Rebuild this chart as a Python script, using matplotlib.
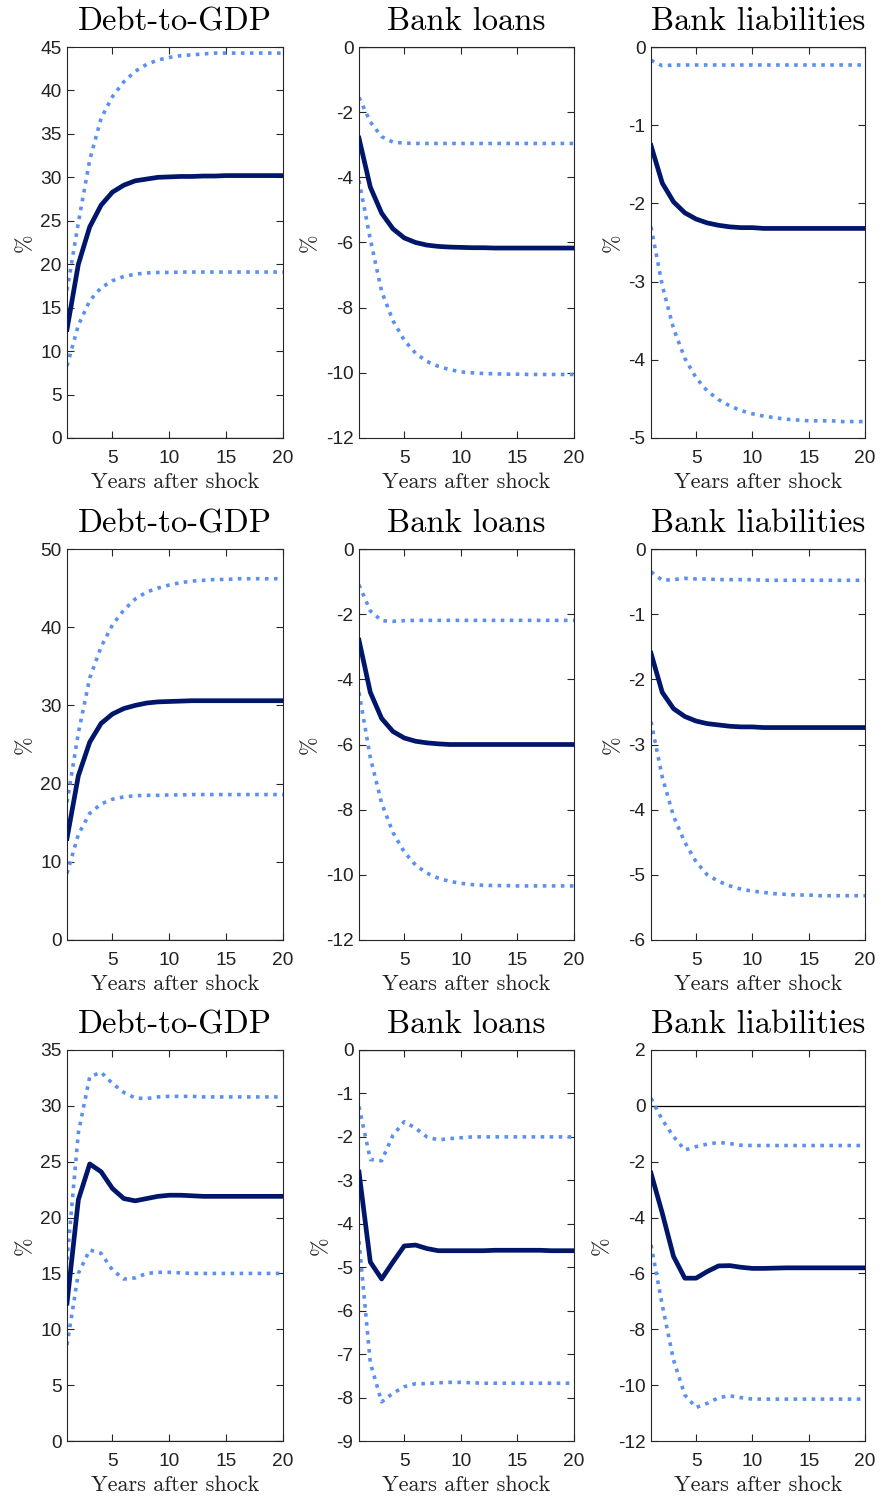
import numpy as np
import matplotlib
matplotlib.use("Agg")
import matplotlib.pyplot as plt

plt.rcParams['axes.unicode_minus'] = False

years = np.arange(1, 21)

titles = ["Debt-to-GDP", "Bank loans", "Bank liabilities"]

# Row 1
r1_debt_mid = [12.5, 20.0, 24.3, 26.8, 28.3, 29.1, 29.6, 29.8, 30.0, 30.05, 30.1, 30.1, 30.15, 30.15, 30.2, 30.2, 30.2, 30.2, 30.2, 30.2]
r1_debt_hi = [17.0, 24.8, 32.0, 36.8, 39.3, 41.0, 42.2, 43.0, 43.5, 43.8, 44.0, 44.1, 44.2, 44.3, 44.3, 44.3, 44.3, 44.3, 44.3, 44.3]
r1_debt_lo = [8.3, 13.0, 15.8, 17.3, 18.1, 18.6, 18.85, 19.0, 19.05, 19.05, 19.1, 19.1, 19.1, 19.1, 19.1, 19.1, 19.1, 19.1, 19.1, 19.1]
r1_loan_mid = [-2.8, -4.3, -5.1, -5.58, -5.86, -6.0, -6.08, -6.12, -6.14, -6.15, -6.16, -6.16, -6.17, -6.17, -6.17, -6.17, -6.17, -6.17, -6.17, -6.17]
r1_loan_hi = [-1.55, -2.3, -2.75, -2.92, -2.95, -2.96, -2.96, -2.96, -2.96, -2.96, -2.96, -2.96, -2.96, -2.96, -2.96, -2.96, -2.96, -2.96, -2.96, -2.96]
r1_loan_lo = [-4.1, -5.9, -7.5, -8.4, -9.0, -9.4, -9.65, -9.8, -9.9, -9.97, -10.0, -10.02, -10.03, -10.04, -10.04, -10.05, -10.05, -10.05, -10.05, -10.05]
r1_liab_mid = [-1.26, -1.74, -1.98, -2.12, -2.2, -2.25, -2.28, -2.3, -2.31, -2.31, -2.32, -2.32, -2.32, -2.32, -2.32, -2.32, -2.32, -2.32, -2.32, -2.32]
r1_liab_hi = [-0.17, -0.24, -0.23, -0.23, -0.23, -0.23, -0.23, -0.23, -0.23, -0.23, -0.23, -0.23, -0.23, -0.23, -0.23, -0.23, -0.23, -0.23, -0.23, -0.23]
r1_liab_lo = [-2.3, -3.05, -3.6, -3.98, -4.23, -4.4, -4.51, -4.59, -4.65, -4.69, -4.72, -4.74, -4.76, -4.77, -4.78, -4.78, -4.78, -4.79, -4.79, -4.79]

# Row 2
r2_debt_mid = [13.0, 21.0, 25.3, 27.7, 28.9, 29.6, 30.0, 30.3, 30.45, 30.5, 30.55, 30.6, 30.6, 30.6, 30.6, 30.6, 30.6, 30.6, 30.6, 30.6]
r2_debt_hi = [17.6, 26.5, 33.5, 37.5, 40.3, 42.2, 43.6, 44.5, 45.0, 45.4, 45.7, 45.9, 46.0, 46.1, 46.1, 46.2, 46.2, 46.2, 46.2, 46.2]
r2_debt_lo = [8.5, 13.5, 16.2, 17.4, 18.0, 18.3, 18.45, 18.5, 18.5, 18.55, 18.55, 18.6, 18.6, 18.6, 18.6, 18.6, 18.6, 18.6, 18.6, 18.6]
r2_loan_mid = [-2.8, -4.4, -5.2, -5.6, -5.8, -5.9, -5.95, -5.98, -6.0, -6.0, -6.0, -6.0, -6.0, -6.0, -6.0, -6.0, -6.0, -6.0, -6.0, -6.0]
r2_loan_hi = [-1.1, -1.9, -2.2, -2.22, -2.2, -2.19, -2.19, -2.19, -2.19, -2.19, -2.19, -2.19, -2.19, -2.19, -2.19, -2.19, -2.19, -2.19, -2.19, -2.19]
r2_loan_lo = [-4.4, -6.4, -7.8, -8.7, -9.3, -9.7, -9.95, -10.1, -10.2, -10.26, -10.3, -10.32, -10.33, -10.33, -10.34, -10.34, -10.34, -10.34, -10.34, -10.34]
r2_liab_mid = [-1.6, -2.2, -2.45, -2.57, -2.64, -2.68, -2.7, -2.72, -2.73, -2.73, -2.74, -2.74, -2.74, -2.74, -2.74, -2.74, -2.74, -2.74, -2.74, -2.74]
r2_liab_hi = [-0.35, -0.48, -0.47, -0.45, -0.46, -0.46, -0.47, -0.47, -0.47, -0.47, -0.48, -0.48, -0.48, -0.48, -0.48, -0.48, -0.48, -0.48, -0.48, -0.48]
r2_liab_lo = [-2.65, -3.5, -4.1, -4.5, -4.8, -5.0, -5.1, -5.17, -5.22, -5.25, -5.27, -5.29, -5.3, -5.31, -5.31, -5.32, -5.32, -5.32, -5.32, -5.32]

# Row 3
r3_debt_mid = [12.35, 21.6, 24.8, 24.1, 22.6, 21.7, 21.5, 21.7, 21.9, 22.0, 22.0, 21.95, 21.9, 21.9, 21.9, 21.9, 21.9, 21.9, 21.9, 21.9]
r3_debt_hi = [16.2, 27.6, 32.6, 33.0, 32.0, 31.2, 30.7, 30.65, 30.8, 30.85, 30.85, 30.85, 30.8, 30.8, 30.8, 30.8, 30.8, 30.8, 30.8, 30.8]
r3_debt_lo = [8.6, 15.0, 17.1, 16.8, 15.3, 14.5, 14.6, 15.0, 15.1, 15.1, 15.05, 15.0, 15.0, 15.0, 15.0, 15.0, 15.0, 15.0, 15.0, 15.0]
r3_loan_mid = [-2.81, -4.88, -5.27, -4.88, -4.51, -4.49, -4.57, -4.62, -4.62, -4.62, -4.62, -4.62, -4.61, -4.61, -4.61, -4.61, -4.61, -4.62, -4.62, -4.62]
r3_loan_hi = [-1.3, -2.52, -2.55, -1.96, -1.65, -1.8, -2.0, -2.07, -2.04, -2.02, -2.0, -2.0, -2.0, -2.0, -2.0, -2.0, -2.0, -2.0, -2.0, -2.0]
r3_loan_lo = [-4.4, -7.2, -8.1, -7.9, -7.75, -7.68, -7.68, -7.66, -7.65, -7.65, -7.66, -7.67, -7.67, -7.67, -7.67, -7.67, -7.67, -7.67, -7.67, -7.67]
r3_liab_mid = [-2.41, -3.84, -5.39, -6.17, -6.17, -5.93, -5.73, -5.72, -5.78, -5.82, -5.82, -5.81, -5.8, -5.8, -5.8, -5.8, -5.8, -5.8, -5.8, -5.8]
r3_liab_hi = [0.27, -0.5, -1.1, -1.58, -1.46, -1.37, -1.31, -1.35, -1.41, -1.42, -1.42, -1.42, -1.42, -1.42, -1.42, -1.42, -1.42, -1.42, -1.42, -1.42]
r3_liab_lo = [-4.98, -7.13, -9.1, -10.35, -10.8, -10.65, -10.45, -10.38, -10.45, -10.5, -10.5, -10.5, -10.5, -10.5, -10.5, -10.5, -10.5, -10.5, -10.5, -10.5]

panels = [
    [(r1_debt_mid, r1_debt_hi, r1_debt_lo, (0, 45), 5),
     (r1_loan_mid, r1_loan_hi, r1_loan_lo, (-12, 0), 2),
     (r1_liab_mid, r1_liab_hi, r1_liab_lo, (-5, 0), 1)],
    [(r2_debt_mid, r2_debt_hi, r2_debt_lo, (0, 50), 10),
     (r2_loan_mid, r2_loan_hi, r2_loan_lo, (-12, 0), 2),
     (r2_liab_mid, r2_liab_hi, r2_liab_lo, (-6, 0), 1)],
    [(r3_debt_mid, r3_debt_hi, r3_debt_lo, (0, 35), 5),
     (r3_loan_mid, r3_loan_hi, r3_loan_lo, (-9, 0), 1),
     (r3_liab_mid, r3_liab_hi, r3_liab_lo, (-12, 2), 2)],
]

W, H = 881, 1497
fig = plt.figure(figsize=(W / 100, H / 100), dpi=100)

col_left = [67, 359, 651]
col_w = [216, 215, 214]
row_top = [47, 549, 1050]
ax_h = 391

navy = '#00166b'
light = '#5b8ff0'
spine_c = '#262626'

for r in range(3):
    for c in range(3):
        mid, hi, lo, ylim, step = panels[r][c]
        ax = fig.add_axes([col_left[c] / W, 1 - (row_top[r] + ax_h) / H, col_w[c] / W, ax_h / H])
        ax.axhline(0, color='black', lw=0.9, zorder=1)
        ax.plot(years, hi, color=light, lw=2.6, linestyle=(0, (1, 1.5)), dash_capstyle='butt', zorder=2)
        ax.plot(years, lo, color=light, lw=2.6, linestyle=(0, (1, 1.5)), dash_capstyle='butt', zorder=2)
        ax.plot(years, mid, color=navy, lw=3.4, zorder=3, solid_joinstyle='round')
        ax.set_xlim(1, 20)
        ax.set_ylim(*ylim)
        ax.set_xticks([5, 10, 15, 20])
        ax.set_yticks(np.arange(ylim[0], ylim[1] + 0.001, step))
        ax.tick_params(direction='in', top=True, right=True, length=5, width=0.8,
                       colors=spine_c, labelsize=13.8)
        ax.tick_params(axis='x', pad=8.5)
        ax.tick_params(axis='y', pad=4)
        for lab in ax.get_xticklabels() + ax.get_yticklabels():
            lab.set_fontfamily('Liberation Sans')
            lab.set_color('#222222')
        for s in ax.spines.values():
            s.set_color(spine_c)
            s.set_linewidth(0.8)
        ax.set_title(titles[c], fontfamily='cmr10', fontsize=23.5, pad=12, color='black')
        ax.set_xlabel('Years after shock', fontfamily='cmr10', fontsize=16, labelpad=4, color='#222222')
        ax.set_ylabel('%', fontfamily='cmr10', fontsize=16, labelpad=4, color='#222222')

fig.savefig('out.png', dpi=100)
